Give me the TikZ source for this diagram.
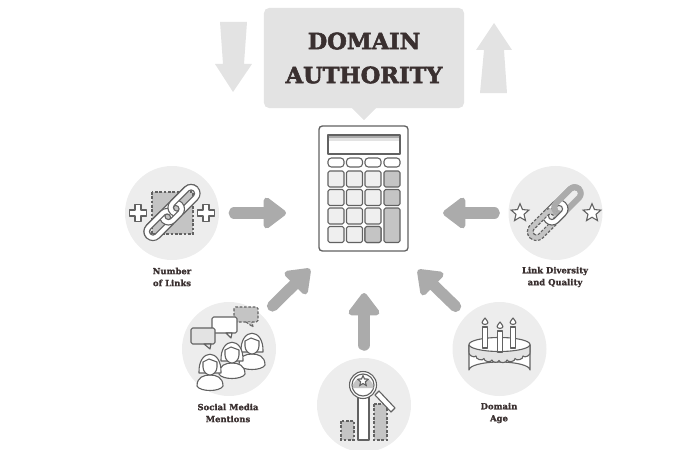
\documentclass[tikz,border=0pt]{standalone}
\usepackage{fontspec}
\usepackage{xcolor}
\usetikzlibrary{arrows.meta, shapes.geometric, calc}
\newfontfamily\slabfont[BoldFeatures={FakeBold=1.4}]{DejaVu Serif}
\newfontfamily\headfont[BoldFeatures={FakeBold=2.4}]{DejaVu Serif}
\definecolor{inkc}{HTML}{3A3030}
\definecolor{linec}{HTML}{626262}
\definecolor{discc}{HTML}{EDEDED}
\definecolor{boxc}{HTML}{E3E3E3}
\definecolor{flowc}{HTML}{ABABAB}
\definecolor{keyc}{HTML}{EFEFEF}
\definecolor{darkc}{HTML}{C4C4C4}

% one link of a chain, as two nested stadium outlines
\newcommand{\chainlink}[5]{
\begin{scope}[shift={(#1,#2)}, rotate=45]
    \path[fill=#3, even odd rule, rounded corners=0.27cm]
        (-#4,-9) rectangle (#4,9) [rounded corners=0.1cm] (-#4+5.5,-3.5) rectangle (#4-5.5,3.5);
    \draw[#5, rounded corners=0.27cm] (-#4,-9) rectangle (#4,9);
    \draw[#5, rounded corners=0.1cm] (-#4+5.5,-3.5) rectangle (#4-5.5,3.5);
\end{scope}
}
% one person of the group
\newcommand{\person}[2]{
\begin{scope}[shift={(#1,#2)}]
    \draw[icon, fill=white] (-11,5) .. controls (-12,-20) and (12,-20) .. (11,5) -- (-11,5) -- cycle;
    \draw[icon, fill=white] (-13,18) .. controls (-13,9) and (-6,7) .. (0,7)
        .. controls (6,7) and (13,9) .. (13,18) .. controls (10,24) and (-10,24) .. (-13,18) -- cycle;
    \draw[icon, fill=white] (-7,-6) -- (-1,-9) -- (7,-6) -- (7,-1) .. controls (7,4) and (3,7) .. (0,7)
        .. controls (-3,7) and (-7,4) .. (-7,-1) -- cycle;
\end{scope}
}

\begin{document}
\begin{tikzpicture}[
    x=0.03cm, y=-0.03cm,
    disc/.style={circle, fill=discc, minimum size=2.82cm, inner sep=0pt},
    flow/.style={line width=0.34cm, flowc, line cap=round,
                 -{Triangle[round, length=0.74cm, width=1.06cm, line width=0.2cm]}},
    caption/.style={align=center, text=inkc, font=\slabfont\bfseries\fontsize{7.2}{10.2}\selectfont, inner sep=0pt},
    icon/.style={draw=linec, line width=0.033cm, line join=round},
    dashicon/.style={draw=linec, line width=0.033cm, dash pattern=on 0.08cm off 0.05cm},
    keypad/.style={icon, rounded corners=0.05cm},
    bigfill/.style={fill=boxc},
    starred/.style={star, star points=5, star point ratio=2.2, draw=linec, line width=0.033cm, fill=white, inner sep=0pt}
]
\clip (0,0) rectangle (700,450);

% top
\node[fill=boxc, rounded corners=0.15cm, minimum width=6cm, minimum height=3cm, align=center,
      text=inkc, font=\headfont\bfseries\fontsize{19.2}{29}\selectfont, inner sep=0pt] (title) at (364,58) {DOMAIN\\AUTHORITY};
\coordinate (titleT) at (364,120);
\fill[boxc] ($(title.south)+(-12,0)$) -- (titleT) -- ($(title.south)+(12,0)$) -- cycle;
\fill[bigfill] (220,22) -- (247,22) -- (244,64) -- (252,64) -- (233,92) -- (215,64) -- (223,64) -- cycle;
\fill[bigfill] (494,23) -- (512,50) -- (504,50) -- (507,93) -- (480,93) -- (484,50) -- (476,50) -- cycle;

% calculator
\node[draw=linec, line width=0.04cm, fill=white, rounded corners=0.1cm, minimum width=2.67cm, minimum height=3.75cm, inner sep=0pt] (calc) at (363.5,188.5) {};
\fill[boxc] (328,135) rectangle (400,141);
\fill[flowc] (328,135) rectangle (400,138);
\draw[icon] (328,135) rectangle (400,154);
\foreach \kx in {328,346.5,365,384}
    \draw[keypad, rounded corners=0.1cm] (\kx,158) rectangle ++(16,9);
\foreach \ky in {171,189.5,208,226.5}
    \foreach \kx in {328,346.5,365}
        \draw[keypad, fill=keyc] (\kx,\ky) rectangle ++(16,16);
\draw[keypad, fill=darkc] (384,171) rectangle ++(16,16);
\draw[keypad, fill=darkc] (384,189.5) rectangle ++(16,16);
\draw[keypad, fill=darkc] (384,208) rectangle ++(16,34.5);
\draw[keypad, fill=darkc] (365,226.5) rectangle ++(16,16);

% discs
\node[disc] (links) at (172,213) {};
\node[disc] (div) at (555.5,213) {};
\node[disc] (social) at (229,349) {};
\node[disc] (age) at (499.5,349) {};
\node[disc] (rank) at (364,405) {};

% arrows
\coordinate (linksT) at (286,213);
\coordinate (divT) at (443,213);
\coordinate (socialT) at (310,269);
\coordinate (ageT) at (418,270);
\coordinate (rankT) at (364,293);
\draw[flow, shorten <=0.45cm] (links) -- (linksT);
\draw[flow, shorten <=0.42cm] (div) -- (divT);
\draw[flow, shorten <=0.42cm] (social) -- (socialT);
\draw[flow, shorten <=0.42cm] (age) -- (ageT);
\draw[flow, shorten <=0.38cm] (rank) -- (rankT);

% captions
\node[caption] (linksL) at (172,277) {Number\\of Links};
\node[caption] (divL) at (555,277) {Link Diversity\\and Quality};
\node[caption] (socialL) at (228,413) {Social Media\\Mentions};
\node[caption] (ageL) at (499,413) {Domain\\Age};

% number of links
\draw[dashicon, fill=darkc] (152,192) rectangle (193,234);
\foreach \px in {138,206} {
    \draw[icon, fill=white] (\px-3,213-8.5) -- (\px+3,213-8.5) -- (\px+3,213-3) -- (\px+8.5,213-3)
        -- (\px+8.5,213+3) -- (\px+3,213+3) -- (\px+3,213+8.5) -- (\px-3,213+8.5) -- (\px-3,213+3)
        -- (\px-8.5,213+3) -- (\px-8.5,213-3) -- (\px-3,213-3) -- cycle;
}
\chainlink{160}{224.5}{white}{19}{icon}
\chainlink{184}{200.5}{white}{19}{icon}
\chainlink{172}{212.5}{white}{14}{icon}
\begin{scope}
    \clip[rotate around={45:(172,212.5)}] (130,212.5) rectangle (214,170);
    \chainlink{160}{224.5}{white}{19}{icon}
    \chainlink{184}{200.5}{white}{19}{icon}
\end{scope}

% link diversity
\node[starred, minimum size=0.56cm] (starA) at (520,213) {};
\node[starred, minimum size=0.56cm] (starB) at (592,213) {};
\chainlink{543.5}{224.5}{darkc}{19}{dashicon}
\chainlink{567.5}{200.5}{flowc}{19}{flowc, line width=0.01cm}
\chainlink{555.5}{212.5}{white}{14}{icon}
\begin{scope}
    \clip[rotate around={45:(555.5,212.5)}] (513,212.5) rectangle (598,170);
    \chainlink{543.5}{224.5}{darkc}{19}{dashicon}
    \chainlink{567.5}{200.5}{flowc}{19}{flowc, line width=0.01cm}
\end{scope}

% social media
\draw[dashicon, fill=darkc, rounded corners=0.05cm] (234,307) rectangle (258,322);
\draw[dashicon, fill=darkc] (246,322) -- (253,327) -- (252,322);
\draw[icon, fill=white, rounded corners=0.05cm] (212,317) rectangle (237,333);
\draw[icon, fill=white] (226,333) -- (231,338) -- (232,333) -- cycle;
\draw[icon, fill=boxc, rounded corners=0.05cm] (191,328) rectangle (215,344);
\draw[icon, fill=boxc] (204,344) -- (210,349) -- (211,344) -- cycle;
\person{252}{347}
\person{232}{356}
\person{210}{368}

% rank
\draw[dashicon, fill=darkc] (341,421) rectangle (354,440);
\draw[dashicon, fill=darkc] (374,404) rectangle (387,440);
\draw[icon, fill=white] (358,392) rectangle (369,440);
\draw[icon, fill=white] (375,395) -- (379,391) -- (395,408) -- (391,412) -- cycle;
\draw[icon, fill=white] (363,385) circle (13.5);
\draw[icon, fill=white] (363,385) circle (11);
\fill[darkc] (352.5,388) arc (180:360:10.5) -- cycle;
\node[starred, minimum size=0.33cm] (rankS) at (363,381) {};

% cake
\draw[icon, fill=white] (469,345) -- (469,370) arc (180:360:30.5 and 8) -- (530,345) -- cycle;
\draw[icon, fill=boxc] (469,345) -- (469,352) to[bend right=85] (476,356) to[bend right=85] (484,358.5) to[bend right=85] (492,360)
    to[bend right=85] (499,360.5) to[bend right=85] (507,360) to[bend right=85] (515,358.5) to[bend right=85] (523,356)
    to[bend right=85] (530,352) -- (530,345) -- cycle;
\draw[icon, fill=white] (499.5,344.5) ellipse (30.5 and 7);
\foreach \cx/\ct/\cb in {485/327/348, 513/327/348, 500/331/352} {
    \draw[icon, fill=white] (\cx-2.5,\ct) rectangle (\cx+2.5,\cb);
    \draw[icon, fill=white] (\cx,\ct-9) .. controls (\cx+1,\ct-7) and (\cx+3,\ct-6) .. (\cx+3,\ct-4.5)
        .. controls (\cx+3,\ct-2) and (\cx-3,\ct-2) .. (\cx-3,\ct-4.5) .. controls (\cx-3,\ct-6) and (\cx-1,\ct-7) .. (\cx,\ct-9) -- cycle;
}
\end{tikzpicture}
\end{document}
